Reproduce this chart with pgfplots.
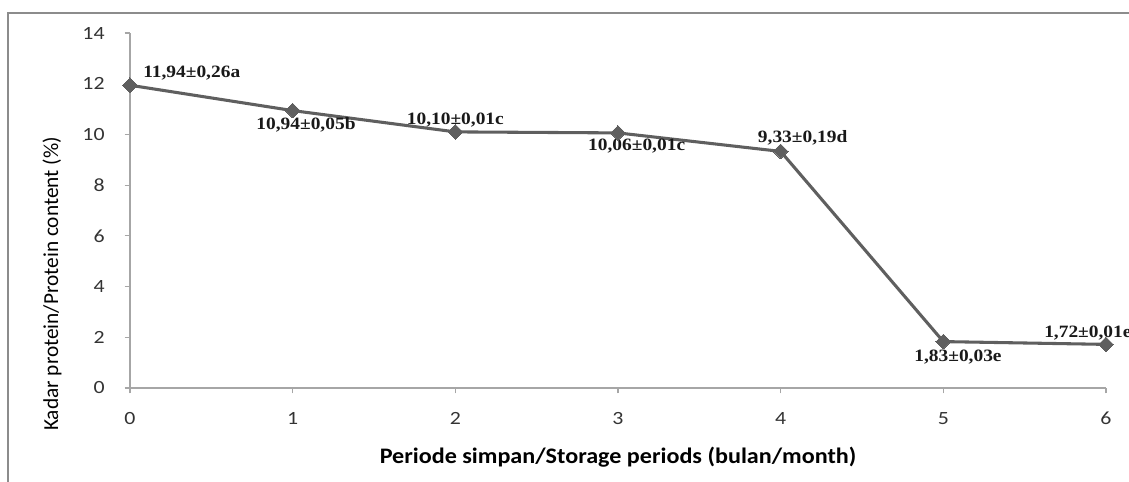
\documentclass[border=0pt]{standalone}
\usepackage{fontspec}
\setmainfont{Carlito}
\newfontfamily\lblfont[FakeStretch=1.12]{Liberation Serif}
\newfontfamily\tickfont[FakeStretch=1.17]{Carlito}
\newfontfamily\xlabfont[FakeStretch=1.09]{Carlito}
\usepackage{pgfplots}
\pgfplotsset{compat=1.18}
\definecolor{linegray}{HTML}{5F5F5F}
\definecolor{axgray}{HTML}{A6A6A6}
\definecolor{framegray}{HTML}{8C8C8C}
\begin{document}
\begin{tikzpicture}[x=1pt,y=1pt]
\useasboundingbox (0,0) rectangle (846.75,361.5);
\draw[framegray, line width=0.9pt] (6,-5) -- (6,351.75) -- (860,351.75);
\begin{axis}[
  at={(97.5pt,70.5pt)}, anchor=south west,
  scale only axis, width=732pt, height=266.25pt,
  xmin=0, xmax=6, ymin=0, ymax=14,
  xtick={0,1,...,6}, ytick={0,2,...,14},
  axis x line*=bottom, axis y line*=left,
  axis line style={axgray, line width=0.8pt, -},
  tick align=outside, major tick length=4pt,
  tick style={axgray, line width=0.8pt},
  clip=false,
  /pgf/number format/assume math mode=true,
  tick label style={font=\tickfont\fontsize{14}{16}\selectfont, text=black!80},
  yticklabel style={xshift=-11.5pt},
  xticklabel style={yshift=-10.5pt},
  xlabel={Periode simpan/Storage periods (bulan/month)},
  ylabel={Kadar protein/Protein content (\%)},
  xlabel style={at={(axis description cs:0.5,0)}, anchor=center, yshift=-51.75pt, font=\xlabfont\bfseries\fontsize{16.6}{19}\selectfont},
  ylabel style={at={(axis description cs:-0.0799,0.293)}, anchor=center, font=\fontsize{16}{19}\selectfont},
]
\addplot[color=linegray, line width=2.3pt, mark=square*, mark size=3.9pt, mark options={rotate=45, solid, fill=linegray, draw=linegray, line width=0pt}]
  coordinates {(0,11.94) (1,10.94) (2,10.10) (3,10.06) (4,9.33) (5,1.83) (6,1.72)};
\begin{scope}[every node/.style={font=\lblfont\bfseries\fontsize{13}{15}\selectfont, text=black!90, inner sep=0pt}]
\node[anchor=west] at ([xshift=9.75pt,yshift=9pt]axis cs:0,11.94) {11,94±0,26a};
\node at ([xshift=10pt,yshift=-11pt]axis cs:1,10.94) {10,94±0,05b};
\node at ([xshift=0pt,yshift=9pt]axis cs:2,10.10) {10,10±0,01c};
\node at ([xshift=14pt,yshift=-10pt]axis cs:3,10.06) {10,06±0,01c};
\node at ([xshift=16.5pt,yshift=10pt]axis cs:4,9.33) {9,33±0,19d};
\node at ([xshift=11pt,yshift=-11.5pt]axis cs:5,1.83) {1,83±0,03e};
\node[anchor=west] at ([xshift=-46.5pt,yshift=8.5pt]axis cs:6,1.72) {1,72±0,01e};
\end{scope}
\end{axis}
\end{tikzpicture}
\end{document}
